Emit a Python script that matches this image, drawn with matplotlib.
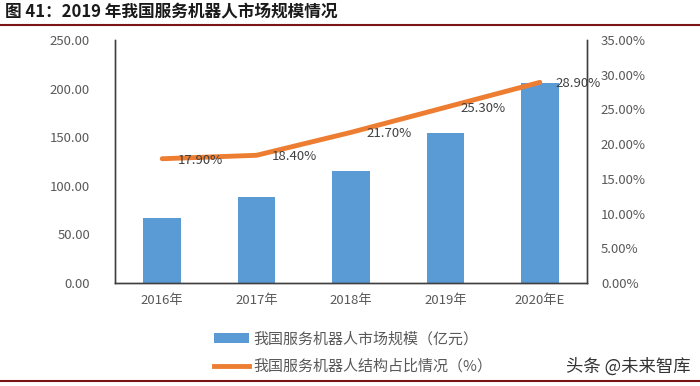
import matplotlib.pyplot as plt
from matplotlib.lines import Line2D
from matplotlib.patches import Patch

plt.rcParams["font.family"] = ["Noto Sans CJK SC", "DejaVu Sans"]

years = ["2016年", "2017年", "2018年", "2019年", "2020年E"]
market_size = [66.5, 88.8, 115.6, 154.3, 206.0]
share_pct = [17.9, 18.4, 21.7, 25.3, 28.9]

bar_color = "#5B9BD5"
line_color = "#ED7D31"
tick_color = "#595959"
rule_color = "#7B1416"

fig = plt.figure(figsize=(7, 3.86), dpi=100)
ax = fig.add_axes([0.1643, 0.2668, 0.6743, 0.6295])
ax2 = ax.twinx()

x = list(range(len(years)))
ax.bar(x, market_size, width=0.4, color=bar_color, zorder=2)
ax.set_xlim(-0.5, len(years) - 0.5)
ax.set_ylim(0, 250)
ax.set_yticks([0, 50, 100, 150, 200, 250])
ax.set_yticklabels([f"{v:.2f}" for v in ax.get_yticks()])
ax.set_xticks(x)
ax.set_xticklabels(years)

ax2.plot(x, share_pct, color=line_color, linewidth=3.5, solid_capstyle="round", zorder=3)
ax2.set_ylim(0, 35)
ax2.set_yticks([0, 5, 10, 15, 20, 25, 30, 35])
ax2.set_yticklabels([f"{v:.2f}%" for v in ax2.get_yticks()])
for xi, v in zip(x, share_pct):
    ax2.annotate(f"{v:.2f}%", (xi, v), xytext=(11, -1), textcoords="offset points",
                 ha="left", va="center", fontsize=9.5, color="#404040")

for a in (ax, ax2):
    a.tick_params(length=0, labelsize=9.5, labelcolor=tick_color)
    a.spines["top"].set_visible(False)
    for s in ("left", "right", "bottom"):
        a.spines[s].set_color("#404040")
        a.spines[s].set_linewidth(1.0)
ax.tick_params(axis="y", pad=18)
ax.tick_params(axis="x", pad=8)
ax2.tick_params(axis="y", pad=10)

# title and rules
fig.text(0.007, 0.968, "图 41：2019 年我国服务机器人市场规模情况", fontsize=12,
         fontweight="bold", ha="left", va="center", color="#1a1a1a")
fig.add_artist(Line2D([0, 1], [0.935, 0.935], color=rule_color, linewidth=1.5))
fig.add_artist(Line2D([0, 1], [0.013, 0.013], color=rule_color, linewidth=1.5))

# legend
handles = [Patch(facecolor=bar_color, edgecolor="none"),
           Line2D([0], [0], color=line_color, linewidth=3.5)]
labels = ["我国服务机器人市场规模（亿元）", "我国服务机器人结构占比情况（%）"]
fig.legend(handles, labels, loc="center left", bbox_to_anchor=(0.287, 0.086),
           frameon=False, fontsize=10.8, labelcolor=tick_color, handlelength=2.3,
           handleheight=0.6, handletextpad=0.3, labelspacing=0.85)

fig.text(0.986, 0.05, "头条 @未来智库", fontsize=12.5, ha="right", va="center",
         color="#333333")

fig.savefig("out.png", dpi=100)
